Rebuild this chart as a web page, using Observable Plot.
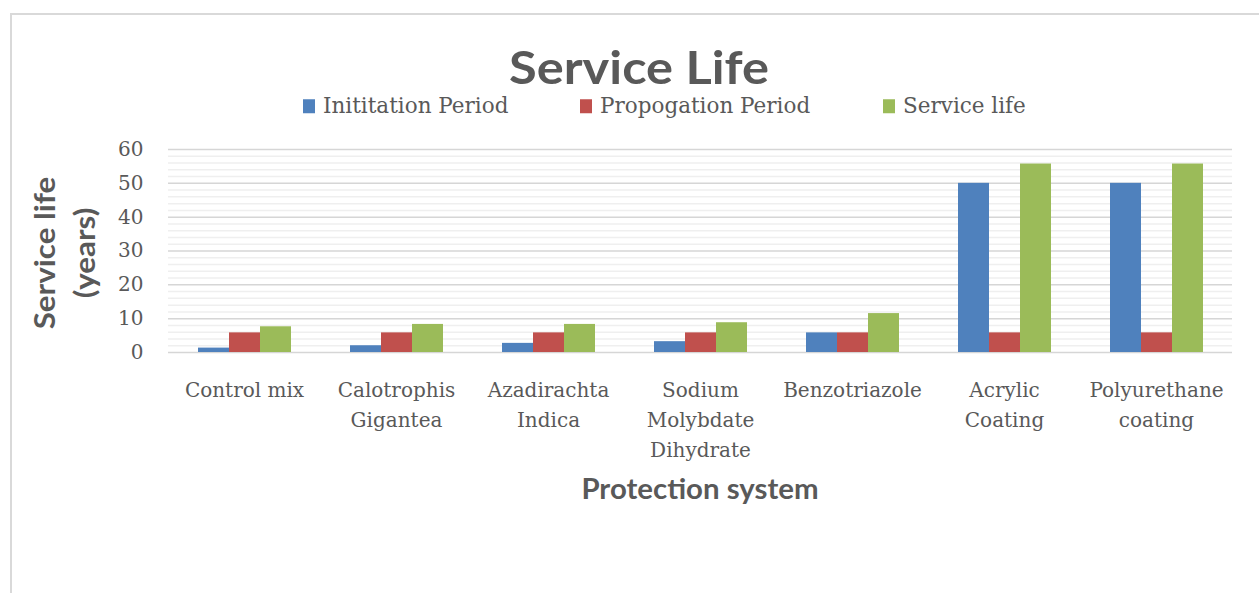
<!DOCTYPE html>
<html><head><meta charset="utf-8">
<script src="https://cdn.jsdelivr.net/npm/d3@7"></script>
<script src="https://cdn.jsdelivr.net/npm/@observablehq/plot@0.6"></script>
<style>
body{margin:0;background:#fff;}
#wrap{position:relative;width:1259px;height:593px;overflow:hidden;background:#fff;color:#595959;}
.frame{position:absolute;left:10px;top:13px;width:1400px;height:800px;border:2px solid #d9d9d9;box-sizing:border-box;}
.title{position:absolute;left:639px;top:67px;transform:translate(-50%,-50%) scaleX(1.1);font:700 46px Lato, "Open Sans", sans-serif;line-height:1;white-space:nowrap;}
.leg{position:absolute;top:106px;transform:translateY(-50%);display:flex;align-items:center;font:21.5px "DejaVu Serif", serif;line-height:1;white-space:nowrap;}
.leg .sw{width:12px;height:14px;margin-right:8px;}
.ytitle{position:absolute;left:64px;top:253px;transform:translate(-50%,-50%) rotate(-90deg) scaleX(1.12);font:700 28px Lato, sans-serif;line-height:40px;text-align:center;white-space:nowrap;}
.xtitle{position:absolute;left:700px;top:488px;transform:translate(-50%,-50%) scaleX(1.05);font:700 28px Lato, sans-serif;line-height:1;white-space:nowrap;}
#chart{position:absolute;left:0;top:130px;}
</style></head><body>
<div id="wrap">
  <div class="frame"></div>
  <div class="title">Service Life</div>
  <div id="legend"></div>
  <div class="ytitle">Service life<br>(years)</div>
  <div class="xtitle">Protection system</div>
  <div id="chart"></div>
</div>
<script>
const categories = ["Control mix", "Calotrophis\nGigantea", "Azadirachta\nIndica", "Sodium\nMolybdate\nDihydrate", "Benzotriazole", "Acrylic\nCoating", "Polyurethane\ncoating"];
const seriesNames = ["Inititation Period", "Propogation Period", "Service life"];
const seriesColors = ["#4F81BD", "#C0504D", "#9BBB59"];
const initiationPeriod = [1.3, 2.0, 2.7, 3.2, 5.8, 50, 50];
const propagationPeriod = [5.8, 5.8, 5.8, 5.8, 5.8, 5.8, 5.8];
const serviceLife = [7.6, 8.3, 8.3, 8.8, 11.5, 55.7, 55.7];
const yTicks = [0, 10, 20, 30, 40, 50, 60];
const legendX = [303, 580, 883];

const seriesValues = [initiationPeriod, propagationPeriod, serviceLife];
const data = categories.flatMap((c, i) => seriesNames.map((s, j) => ({cat: c, series: s, value: seriesValues[j][i]})));
const minorTicks = d3.range(0, 61, 2).filter(v => v % 10 !== 0);

const legend = document.getElementById("legend");
seriesNames.forEach((s, j) => {
  const d = document.createElement("div");
  d.className = "leg";
  d.style.left = legendX[j] + "px";
  d.innerHTML = `<span class="sw" style="background:${seriesColors[j]}"></span><span>${s}</span>`;
  legend.appendChild(d);
});

const chart = Plot.plot({
  width: 1259, height: 340,
  marginTop: 19, marginBottom: 118, marginLeft: 168, marginRight: 27,
  style: {fontFamily: "'DejaVu Serif', serif", fontSize: "20px", color: "#595959", background: "transparent", overflow: "visible"},
  fx: {domain: categories, padding: 0, label: null},
  x: {domain: seriesNames, paddingInner: 0, paddingOuter: 0.9, axis: null},
  y: {domain: [0, 60]},
  color: {domain: seriesNames, range: seriesColors},
  marks: [
    Plot.ruleY(minorTicks, {stroke: "#efefef", strokeWidth: 1.5}),
    Plot.ruleY(yTicks, {stroke: "#d6d6d6", strokeWidth: 1.5}),
    Plot.barY(data, {fx: "cat", x: "series", y: "value", fill: "series"}),
    Plot.axisY({ticks: yTicks, tickSize: 0, tickPadding: 25, label: null, fontSize: 20}),
    Plot.axisFx({anchor: "bottom", tickSize: 0, tickPadding: 23, lineHeight: 1.5, label: null, fontSize: 20})
  ]
});
document.getElementById("chart").appendChild(chart);
</script>
</body></html>
